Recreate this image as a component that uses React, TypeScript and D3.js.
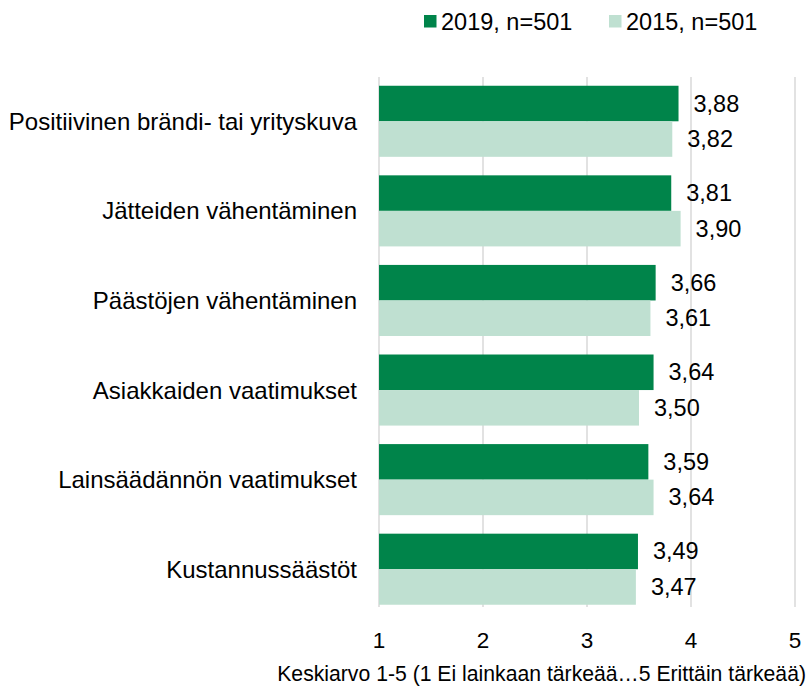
import React from "react";
import * as d3 from "d3";

const categories = [
  "Positiivinen brändi- tai yrityskuva",
  "Jätteiden vähentäminen",
  "Päästöjen vähentäminen",
  "Asiakkaiden vaatimukset",
  "Lainsäädännön vaatimukset",
  "Kustannussäästöt",
];
const values2019 = [3.88, 3.81, 3.66, 3.64, 3.59, 3.49];
const values2015 = [3.82, 3.9, 3.61, 3.5, 3.64, 3.47];
const seriesNames = ["2019, n=501", "2015, n=501"];
const xTicks = [1, 2, 3, 4, 5];
const axisTitle = "Keskiarvo 1-5 (1 Ei lainkaan tärkeää…5 Erittäin tärkeää)";

const W = 812;
const H = 686;
const FONT = "'Liberation Sans', Arial, sans-serif";
const COLORS = ["#00844a", "#bfe0d1"];

export default function App() {
  const x = d3.scaleLinear().domain([1, 5]).range([379, 795]);
  const y = d3
    .scaleBand<string>()
    .domain(categories)
    .range([76.5, 614])
    .paddingInner(0.2067)
    .paddingOuter(0.1033);
  const inner = d3
    .scaleBand<string>()
    .domain(seriesNames)
    .range([0, y.bandwidth()])
    .padding(0);
  const series = [values2019, values2015];
  const fmt = (v: number) => v.toFixed(2).replace(".", ",");

  return (
    <svg
      width={W}
      height={H}
      style={{ position: "absolute", left: 0, top: 0, background: "#fff" }}
      fontFamily={FONT}
    >
      {xTicks.map((t) => (
        <line
          key={"g" + t}
          x1={x(t)}
          x2={x(t)}
          y1={77}
          y2={607}
          stroke="#d9d9d9"
          strokeWidth={1.5}
        />
      ))}
      {categories.map((c, i) => (
        <g key={c} transform={`translate(0,${y(c)})`}>
          {seriesNames.map((s, j) => {
            const v = series[j][i];
            const y0 = inner(s)!;
            return (
              <g key={s}>
                <rect
                  x={x(1)}
                  y={y0}
                  width={x(v) - x(1)}
                  height={inner.bandwidth()}
                  fill={COLORS[j]}
                />
                <text
                  x={x(v) + 15}
                  y={y0 + inner.bandwidth() / 2}
                  dominantBaseline="central"
                  fontSize={23.5}
                  fill="#000"
                >
                  {fmt(v)}
                </text>
              </g>
            );
          })}
          <text
            x={357}
            y={y.bandwidth() / 2}
            textAnchor="end"
            dominantBaseline="central"
            fontSize={24}
            fill="#000"
          >
            {c}
          </text>
        </g>
      ))}
      {xTicks.map((t) => (
        <text
          key={"t" + t}
          x={x(t)}
          y={640}
          textAnchor="middle"
          dominantBaseline="central"
          fontSize={22.5}
          fill="#000"
        >
          {t}
        </text>
      ))}
      <text
        x={806}
        y={673}
        textAnchor="end"
        dominantBaseline="central"
        fontSize={21.2}
        fill="#000"
      >
        {axisTitle}
      </text>
      {seriesNames.map((s, j) => {
        const lx = j === 0 ? 424 : 609;
        return (
          <g key={"l" + s}>
            <rect x={lx} y={15} width={12.5} height={12.5} fill={COLORS[j]} />
            <text
              x={lx + 17}
              y={21.5}
              dominantBaseline="central"
              fontSize={23.5}
              fill="#000"
            >
              {s}
            </text>
          </g>
        );
      })}
    </svg>
  );
}
